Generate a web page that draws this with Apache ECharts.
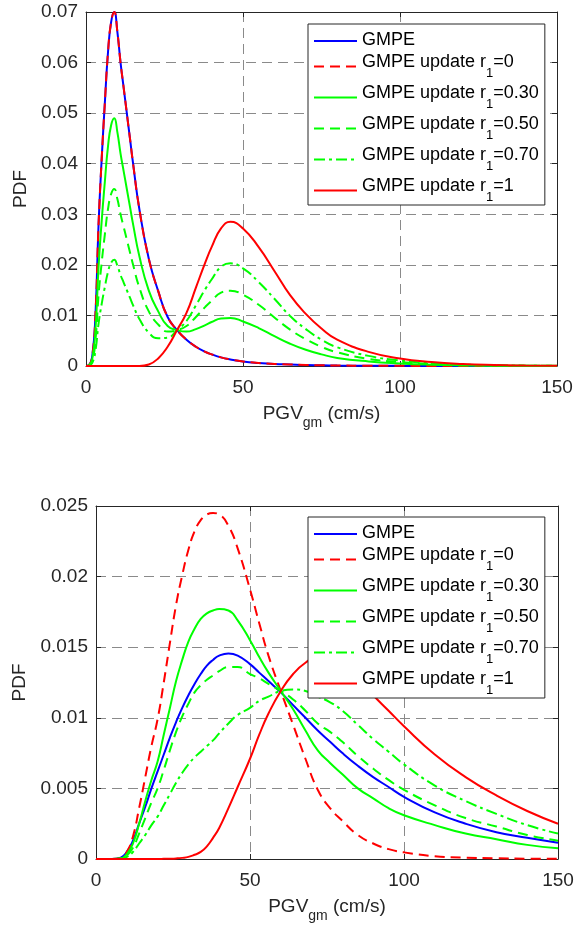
<!DOCTYPE html>
<html>
<head>
<meta charset="utf-8">
<title>PGV PDF</title>
<script src="https://cdn.jsdelivr.net/npm/echarts@6/dist/echarts.min.js"></script>
<style>
  html, body { margin: 0; padding: 0; background: #fff; }
  .chart { width: 574px; height: 465px; }
</style>
</head>
<body>
<div id="top" class="chart"></div>
<div id="bottom" class="chart"></div>
<script>
const seriesNames = ['GMPE', 'GMPE update r1=0', 'GMPE update r1=0.30',
  'GMPE update r1=0.50', 'GMPE update r1=0.70', 'GMPE update r1=1']

// upper panel (PGV_gm in cm/s, PDF values)
const xTop = [0, 1, 2, 3, 4, 5, 6, 7, 8, 9, 10, 11, 12, 13, 14, 15, 17, 20, 23, 26, 29, 32, 35, 38, 40,
  43, 46, 50, 55, 60, 65, 70, 75, 80, 90, 100, 110, 120, 130, 140, 150]
const gmpeTop = [0, 0.0002, 0.002, 0.01, 0.028, 0.041, 0.052, 0.062, 0.068, 0.070, 0.066, 0.060, 0.055, 0.050,
  0.045, 0.040, 0.031, 0.0212, 0.0148, 0.0097, 0.0071, 0.0052, 0.0038, 0.0028, 0.0023, 0.0017, 0.0013, 0.0009,
  0.0006, 0.0004, 0.0003, 0.0002, 0.00015, 0.0001, 0.00005, 0.00003, 0.00002, 0.00001, 0, 0, 0]
const r0Top = [0, 0.0002, 0.002, 0.01, 0.028, 0.041, 0.052, 0.062, 0.068, 0.070, 0.066, 0.060, 0.055, 0.050,
  0.045, 0.040, 0.031, 0.0212, 0.0148, 0.0097, 0.0071, 0.0052, 0.0038, 0.0028, 0.0023, 0.0017, 0.0013, 0.0009,
  0.0006, 0.0004, 0.0003, 0.0002, 0.00015, 0.0001, 0.00005, 0.00003, 0.00002, 0.00001, 0, 0, 0]
const r30Top = [0, 0.00014, 0.0014, 0.007, 0.0196, 0.0287, 0.0364, 0.0434, 0.0476, 0.049, 0.0462, 0.042, 0.0385,
  0.035, 0.0315, 0.028, 0.0217, 0.0149, 0.0108, 0.0079, 0.0071, 0.0068, 0.0073, 0.0081, 0.0087, 0.0094, 0.0095,
  0.0088, 0.0075, 0.0059, 0.0044, 0.0032, 0.0023, 0.0016, 0.0009, 0.0005, 0.00025, 0.00012, 0.00006, 0.00003, 0.00002]
const r50Top = [0, 0.0001, 0.001, 0.005, 0.014, 0.0205, 0.026, 0.031, 0.034, 0.035, 0.033, 0.030, 0.0275, 0.025,
  0.0225, 0.020, 0.0155, 0.0108, 0.0082, 0.0068, 0.0071, 0.0079, 0.0097, 0.0117, 0.0129, 0.0145, 0.0149, 0.0141,
  0.0121, 0.0096, 0.0072, 0.0053, 0.0038, 0.0027, 0.0014, 0.0008, 0.0004, 0.0002, 0.0001, 0.00005, 0.00003]
const r70Top = [0, 0.00006, 0.0006, 0.003, 0.0084, 0.0123, 0.0156, 0.0186, 0.0204, 0.021, 0.0198, 0.018, 0.0165,
  0.015, 0.0135, 0.012, 0.0093, 0.0066, 0.0055, 0.0056, 0.0071, 0.0089, 0.012, 0.0152, 0.0171, 0.0196, 0.0203,
  0.0193, 0.0166, 0.0133, 0.0099, 0.0073, 0.0052, 0.0037, 0.002, 0.0011, 0.00056, 0.00028, 0.00014, 0.00007, 0.00004]
const r1Top = [0, 0, 0, 0, 0, 0, 0, 0, 0, 0, 0, 0, 0, 0, 0, 0, 0, 0.0003, 0.0015, 0.0038, 0.0071, 0.0105, 0.0155,
  0.0205, 0.0235, 0.0272, 0.0285, 0.0272, 0.0235, 0.0188, 0.014, 0.0103, 0.0074, 0.0052, 0.0028, 0.0015, 0.0008,
  0.0004, 0.0002, 0.0001, 0.00005]

// lower panel
const xBot = [0, 5, 8, 10, 12, 14, 16, 18, 20, 22, 24, 26, 28, 30, 32, 34, 36, 38, 40, 43, 46, 50, 53, 56, 60,
  64, 68, 72, 76, 80, 85, 90, 95, 100, 110, 120, 130, 140, 150]
const gmpeBot = [0, 0, 0.0001, 0.0005, 0.0013, 0.0025, 0.0037, 0.005, 0.0062, 0.0074, 0.0086, 0.0097, 0.0107,
  0.0116, 0.0124, 0.0131, 0.0137, 0.0141, 0.0144, 0.01455, 0.0144, 0.0138, 0.0132, 0.0126, 0.0118, 0.0109, 0.0100,
  0.0091, 0.0083, 0.0075, 0.0066, 0.0058, 0.0051, 0.0044, 0.0033, 0.0025, 0.0019, 0.0015, 0.00115]
const r0Bot = [0, 0, 0.00005, 0.0005, 0.0016, 0.0036, 0.0058, 0.008, 0.0099, 0.0125, 0.0153, 0.018, 0.0201,
  0.0219, 0.0232, 0.024, 0.0244, 0.0245, 0.0244, 0.0236, 0.022, 0.0191, 0.0167, 0.0144, 0.0119, 0.0095, 0.0071,
  0.0049, 0.0036, 0.0027, 0.0017, 0.0011, 0.0007, 0.00047, 0.0002, 0.0001, 0.00005, 0.00002, 0.00001]
const r30Bot = [0, 0, 0.00004, 0.00035, 0.0011, 0.0025, 0.0041, 0.0056, 0.0069, 0.0088, 0.0107, 0.0126, 0.0141,
  0.0154, 0.0163, 0.017, 0.0174, 0.0176, 0.0177, 0.0176, 0.0169, 0.0155, 0.0143, 0.0132, 0.0119, 0.0106, 0.0091,
  0.0077, 0.0068, 0.006, 0.005, 0.0043, 0.0036, 0.0031, 0.0024, 0.0018, 0.0014, 0.001, 0.00076]
const r50Bot = [0, 0, 0.00003, 0.00025, 0.0008, 0.0018, 0.0029, 0.004, 0.005, 0.0063, 0.0077, 0.009, 0.0101,
  0.011, 0.0118, 0.0123, 0.0127, 0.013, 0.0133, 0.0136, 0.0136, 0.0131, 0.0128, 0.0124, 0.0119, 0.0113, 0.0105,
  0.0096, 0.009, 0.0083, 0.0073, 0.0064, 0.0056, 0.0049, 0.0038, 0.0029, 0.0023, 0.0017, 0.0013]
const r70Bot = [0, 0, 0.00002, 0.00015, 0.0005, 0.0011, 0.0017, 0.0024, 0.003, 0.0038, 0.0046, 0.0054, 0.0061,
  0.0067, 0.0072, 0.0076, 0.008, 0.0084, 0.0089, 0.0096, 0.0102, 0.0107, 0.0112, 0.0115, 0.0119, 0.012, 0.0119,
  0.0115, 0.0111, 0.0105, 0.0095, 0.0085, 0.0076, 0.0067, 0.0052, 0.0041, 0.0032, 0.0024, 0.0018]
const r1Bot = [0, 0, 0, 0, 0, 0, 0, 0, 0, 0.00001, 0.00002, 0.00004, 0.00008, 0.00015, 0.0003, 0.0005, 0.0009,
  0.0015, 0.0022, 0.0036, 0.0051, 0.0071, 0.0088, 0.0103, 0.0119, 0.0131, 0.0139, 0.0143, 0.0143, 0.0138, 0.0128,
  0.0116, 0.0105, 0.0094, 0.0074, 0.0058, 0.0045, 0.0034, 0.0025]

const FONT = '"Liberation Sans", Arial, Helvetica, sans-serif'
const INK = '#262626'
const GRIDLINE = '#8a8a8a'

const lineLooks = [
  { color: '#0000ff', dash: 'solid' },
  { color: '#ff0000', dash: [10, 6] },
  { color: '#00ff00', dash: 'solid' },
  { color: '#00ff00', dash: [10, 6] },
  { color: '#00ff00', dash: [11, 4, 3, 4] },
  { color: '#ff0000', dash: 'solid' }
]

function legendLabel(name) {
  if (name.indexOf('r1=') < 0) {
    return '{t|' + name + '}'
  }
  const parts = name.split('r1=')
  return '{t|' + parts[0] + 'r}{s|1}{t|=' + parts[1] + '}'
}

function makeSeries(xs, cols) {
  return cols.map((ys, i) => ({
    name: seriesNames[i],
    type: 'line',
    data: xs.map((x, k) => [x, ys[k]]),
    symbol: 'none',
    showSymbol: false,
    smooth: 0.5,
    lineStyle: { color: lineLooks[i].color, width: 2, type: lineLooks[i].dash },
    itemStyle: { color: lineLooks[i].color },
    emphasis: { disabled: true },
    silent: true
  }))
}

function makeOption(cfg) {
  const tickStyle = { inside: true, length: 5, lineStyle: { color: INK } }
  return {
    animation: false,
    backgroundColor: '#fff',
    grid: {
      left: cfg.grid.left, top: cfg.grid.top, width: cfg.grid.width, height: cfg.grid.height,
      containLabel: false, outerBoundsMode: 'none'
    },
    legend: {
      orient: 'vertical',
      left: 308,
      top: cfg.legendTop,
      data: seriesNames,
      selectedMode: false,
      backgroundColor: '#fff',
      borderColor: INK,
      borderWidth: 1,
      borderRadius: 0,
      padding: [7, 6, 1, 5],
      itemGap: 4,
      itemWidth: 43,
      itemHeight: 2,
      itemStyle: { opacity: 0 },
      formatter: legendLabel,
      textStyle: {
        fontFamily: FONT,
        color: '#000',
        rich: {
          t: { fontFamily: FONT, fontSize: 18, lineHeight: 20, verticalAlign: 'top', color: '#000' },
          s: { fontFamily: FONT, fontSize: 13, padding: [14, 0, 0, 0], verticalAlign: 'top', color: '#000' }
        }
      }
    },
    xAxis: [{
      type: 'value',
      min: 0,
      max: 150,
      interval: 50,
      name: '{t|PGV}{s|gm}{t| (cm/s)}',
      nameLocation: 'middle',
      nameGap: cfg.xNameGap,
      nameTextStyle: {
        rich: {
          t: { fontFamily: FONT, fontSize: 19, lineHeight: 22, verticalAlign: 'top', color: INK },
          s: { fontFamily: FONT, fontSize: 14, padding: [12, 0, 0, 0], verticalAlign: 'top', color: INK }
        }
      },
      axisLine: { show: true, onZero: false, lineStyle: { color: INK, width: 1 } },
      axisTick: tickStyle,
      axisLabel: { margin: 12, fontFamily: FONT, fontSize: 19, color: INK },
      splitLine: { show: true, lineStyle: { color: GRIDLINE, type: [10, 6], width: 1 } }
    }, {
      type: 'value',
      position: 'top',
      min: 0,
      max: 150,
      interval: 50,
      axisLine: { show: true, onZero: false, lineStyle: { color: INK, width: 1 } },
      axisTick: tickStyle,
      axisLabel: { show: false },
      splitLine: { show: false }
    }],
    yAxis: [{
      type: 'value',
      min: 0,
      max: cfg.yMax,
      interval: cfg.yStep,
      name: 'PDF',
      nameLocation: 'middle',
      nameGap: cfg.yNameGap,
      nameTextStyle: { fontFamily: FONT, fontSize: 19, color: INK },
      axisLine: { show: true, onZero: false, lineStyle: { color: INK, width: 1 } },
      axisTick: tickStyle,
      axisLabel: { margin: 8, fontFamily: FONT, fontSize: 19, color: INK },
      splitLine: { show: true, lineStyle: { color: GRIDLINE, type: [10, 6], width: 1 } }
    }, {
      type: 'value',
      position: 'right',
      min: 0,
      max: cfg.yMax,
      interval: cfg.yStep,
      axisLine: { show: true, onZero: false, lineStyle: { color: INK, width: 1 } },
      axisTick: tickStyle,
      axisLabel: { show: false },
      splitLine: { show: false }
    }],
    series: makeSeries(cfg.xs, cfg.cols)
  }
}

const topChart = echarts.init(document.getElementById('top'), null, { renderer: 'canvas' })
topChart.setOption(makeOption({
  grid: { left: 86, top: 12, width: 471, height: 354 },
  legendTop: 24,
  yMax: 0.07,
  yStep: 0.01,
  xNameGap: 38,
  yNameGap: 51,
  xs: xTop,
  cols: [gmpeTop, r0Top, r30Top, r50Top, r70Top, r1Top]
}))

const bottomChart = echarts.init(document.getElementById('bottom'), null, { renderer: 'canvas' })
bottomChart.setOption(makeOption({
  grid: { left: 96, top: 41, width: 462, height: 353 },
  legendTop: 52,
  yMax: 0.025,
  yStep: 0.005,
  xNameGap: 38,
  yNameGap: 61,
  xs: xBot,
  cols: [gmpeBot, r0Bot, r30Bot, r50Bot, r70Bot, r1Bot]
}))
</script>
</body>
</html>
